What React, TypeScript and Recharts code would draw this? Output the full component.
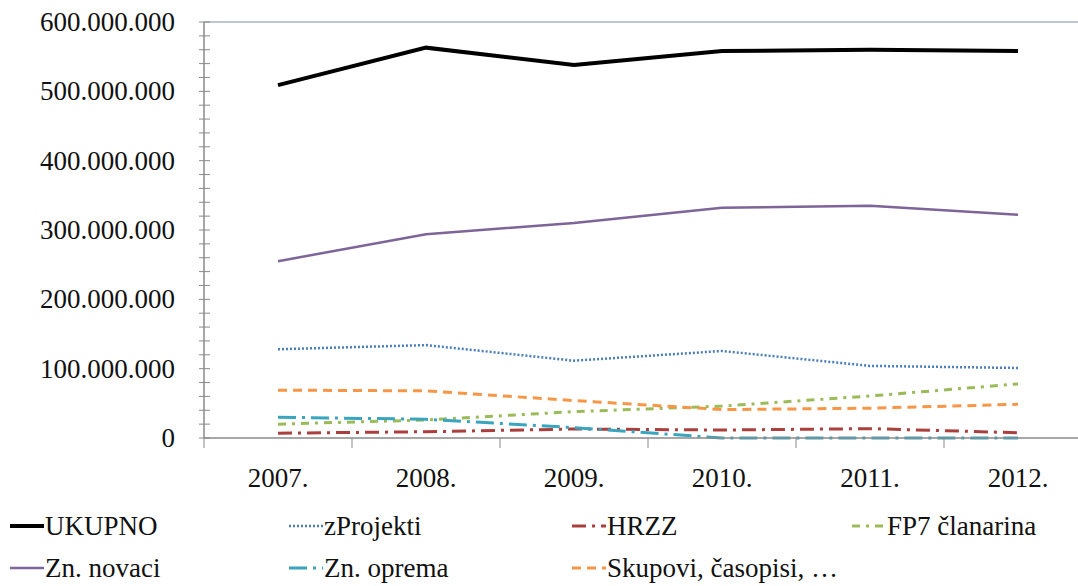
import React from "react";
import { LineChart, Line, XAxis, YAxis, ReferenceLine, Legend } from "recharts";

const years = ["2007.", "2008.", "2009.", "2010.", "2011.", "2012."];
const ukupno = [509000000, 563000000, 538000000, 558000000, 560000000, 558000000];
const zProjekti = [128000000, 134000000, 111500000, 125500000, 104000000, 101000000];
const hrzz = [7000000, 9000000, 13000000, 11500000, 13500000, 7600000];
const fp7 = [20000000, 26000000, 38000000, 46000000, 60600000, 78000000];
const znNovaci = [255000000, 294000000, 310000000, 332000000, 335000000, 322000000];
const znOprema = [30000000, 27000000, 15000000, 0, 0, 0];
const skupovi = [69000000, 68000000, 54000000, 41000000, 43000000, 48600000];

const yTicks = [0, 100000000, 200000000, 300000000, 400000000, 500000000, 600000000];
const yMinorTicks = Array.from({ length: 31 }, (_, i) => i * 20000000);

const data = years.map((y, i) => ({
  year: y,
  UKUPNO: ukupno[i],
  zProjekti: zProjekti[i],
  HRZZ: hrzz[i],
  FP7: fp7[i],
  ZnNovaci: znNovaci[i],
  ZnOprema: znOprema[i],
  Skupovi: skupovi[i],
}));

const series = [
  { key: "UKUPNO", name: "UKUPNO", color: "#000000", width: 4, dash: undefined as string | undefined, col: 0, row: 0 },
  { key: "zProjekti", name: "zProjekti", color: "#4A7EBB", width: 2.5, dash: "2 2", col: 1, row: 0 },
  { key: "HRZZ", name: "HRZZ", color: "#A9403D", width: 3, dash: "14 6 3 6", col: 2, row: 0 },
  { key: "FP7", name: "FP7 članarina", color: "#9BBB59", width: 3, dash: "8 6 3 6", col: 3, row: 0 },
  { key: "ZnNovaci", name: "Zn. novaci", color: "#7D6499", width: 2.5, dash: undefined, col: 0, row: 1 },
  { key: "ZnOprema", name: "Zn. oprema", color: "#3AA5BE", width: 3, dash: "18 6 3 6", col: 1, row: 1 },
  { key: "Skupovi", name: "Skupovi, časopisi, …", color: "#F79646", width: 3, dash: "9 6", col: 2, row: 1 },
];

const FONT = "'Liberation Serif', 'Times New Roman', serif";
const CHART_W = 1100;
const CHART_H = 586;
const MARGIN = { top: 22, right: 8, bottom: 0, left: 0 };
const YAXIS_W = 204;
const PLOT_W = CHART_W - MARGIN.left - MARGIN.right - YAXIS_W;
const BAND = PLOT_W / years.length;
const AXIS_COLOR = "#8a8a8a";

const fmt = (v: number) => {
  const s = String(Math.round(v));
  return s.replace(/\B(?=(\d{3})+(?!\d))/g, ".");
};

const YTick = (props: any) => {
  const { x, y, payload } = props;
  const v = payload.value as number;
  const major = v % 100000000 === 0;
  return (
    <g>
      <line x1={x - 5} x2={x + 6} y1={y} y2={y} stroke={AXIS_COLOR} strokeWidth={1} />
      {major && (
        <text x={x - 29} y={y} dy={9} textAnchor="end" fontFamily={FONT} fontSize={27} fill="#111">
          {fmt(v)}
        </text>
      )}
    </g>
  );
};

const XTick = (props: any) => {
  const { x, y, payload } = props;
  const bx = x - BAND / 2;
  return (
    <g>
      <line x1={bx} x2={bx} y1={y} y2={y + 10} stroke={AXIS_COLOR} strokeWidth={1} />
      <text x={x} y={y + 49} textAnchor="middle" fontFamily={FONT} fontSize={27} fill="#111">
        {payload.value}
      </text>
    </g>
  );
};

const colX = [10, 289, 572, 852];
const rowY = [28, 70];

const LegendContent = () => (
  <div style={{ position: "relative", width: 1078, height: 88 }}>
    {series.map((s) => (
      <div
        key={s.key}
        style={{
          position: "absolute",
          left: colX[s.col],
          top: rowY[s.row] - 17,
          height: 34,
          display: "flex",
          alignItems: "center",
          whiteSpace: "nowrap",
          fontFamily: FONT,
          fontSize: 27,
          color: "#111",
        }}
      >
        <svg width={34} height={10} style={{ marginRight: 1 }}>
          <line
            x1={0}
            x2={34}
            y1={5}
            y2={5}
            stroke={s.color}
            strokeWidth={s.width}
            strokeDasharray={s.dash}
          />
        </svg>
        <span>{s.name}</span>
      </div>
    ))}
  </div>
);

export default function App() {
  return (
    <div style={{ position: "absolute", left: 0, top: 0, width: 1078, height: 586, overflow: "hidden", background: "#fff" }}>
      <LineChart width={CHART_W} height={CHART_H} data={data} margin={MARGIN}>
        <ReferenceLine y={600000000} stroke="#a9b6c2" strokeWidth={1.5} />
        <XAxis
          dataKey="year"
          padding={{ left: BAND / 2, right: BAND / 2 }}
          height={60}
          tickSize={0}
          tickMargin={0}
          tick={<XTick />}
          axisLine={{ stroke: AXIS_COLOR, strokeWidth: 1.5 }}
          tickLine={false}
          interval={0}
        />
        <YAxis
          width={YAXIS_W}
          domain={[0, 600000000]}
          ticks={yMinorTicks}
          interval={0}
          tickSize={0}
          tickMargin={0}
          tick={<YTick />}
          axisLine={{ stroke: AXIS_COLOR, strokeWidth: 1.5 }}
          tickLine={false}
        />
        <Legend
          verticalAlign="bottom"
          content={<LegendContent />}
          wrapperStyle={{ left: 0, width: 1078, height: 88 }}
        />
        {series.map((s) => (
          <Line
            key={s.key}
            dataKey={s.key}
            name={s.name}
            stroke={s.color}
            strokeWidth={s.width}
            strokeDasharray={s.dash}
            dot={false}
            activeDot={false}
            isAnimationActive={false}
            type="linear"
          />
        ))}
      </LineChart>
    </div>
  );
}
